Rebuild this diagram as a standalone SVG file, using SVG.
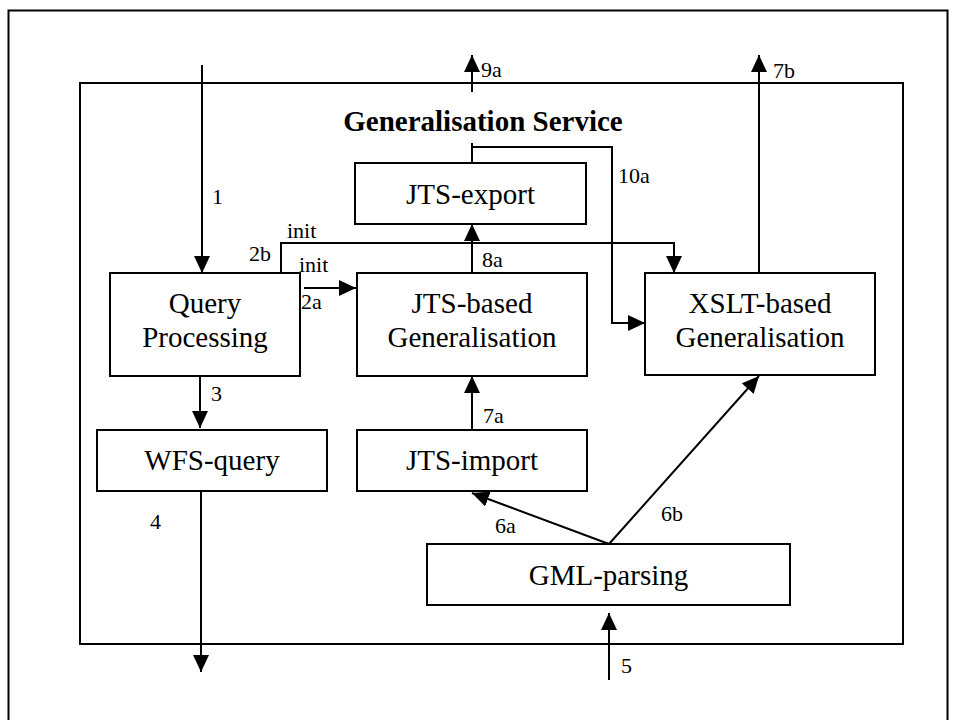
<svg xmlns="http://www.w3.org/2000/svg" width="955" height="720" viewBox="0 0 955 720">
<style>
.box{fill:#fff;stroke:#000;stroke-width:2}
.frame{fill:none;stroke:#000;stroke-width:2}
.lbl{font-family:"Liberation Serif","Times New Roman",serif;font-size:29px;fill:#000;text-anchor:middle}
.title{font-family:"Liberation Serif","Times New Roman",serif;font-size:29px;font-weight:bold;fill:#000;text-anchor:middle}
.num{font-family:"Liberation Serif","Times New Roman",serif;font-size:22px;fill:#000}
.con{fill:none;stroke:#000;stroke-width:2}
.arr{marker-end:url(#ah)}
</style>
<defs>
<marker id="ah" markerUnits="userSpaceOnUse" markerWidth="18" markerHeight="17" refX="17" refY="8" orient="auto">
<path d="M0,0 L17,8 L0,16 Z" fill="#000"/>
</marker>
</defs>
<rect x="8.5" y="10.5" width="939" height="730" class="frame"/>
<g id="service">
<rect x="80" y="83" width="823" height="561" class="frame"/>
<text x="483" y="131" class="title">Generalisation Service</text>
</g>
<g id="connectors">
<path class="con arr" d="M202,65 V273"/>
<path class="con arr" d="M281,273 V243 H674 V273"/>
<path class="con arr" d="M304,288 H356"/>
<path class="con arr" d="M472,273 V224"/>
<path class="con arr" d="M472,92 V55"/>
<path class="con arr" d="M759,273 V55"/>
<path class="con" d="M472,163 V143"/>
<path class="con arr" d="M472,147 H612 V323 H645"/>
<path class="con arr" d="M200,376 V428"/>
<path class="con arr" d="M201,491 V672"/>
<path class="con arr" d="M472,430 V376"/>
<path class="con arr" d="M609,544 L472,493"/>
<path class="con arr" d="M609,544 L759,376"/>
<path class="con arr" d="M609,680 V613"/>
<text x="212" y="204" class="num">1</text>
<text x="287" y="238" class="num">init</text>
<text x="249" y="261" class="num">2b</text>
<text x="299" y="272" class="num">init</text>
<text x="301" y="309" class="num">2a</text>
<text x="482" y="267" class="num">8a</text>
<text x="481" y="77" class="num">9a</text>
<text x="773" y="78" class="num">7b</text>
<text x="618" y="183" class="num">10a</text>
<text x="211" y="401" class="num">3</text>
<text x="150" y="529" class="num">4</text>
<text x="483" y="423" class="num">7a</text>
<text x="495" y="533" class="num">6a</text>
<text x="661" y="521" class="num">6b</text>
<text x="621" y="673" class="num">5</text>
</g>
<g id="query-processing">
<rect x="110" y="273" width="190" height="103" class="box"/>
<text x="205" y="313" class="lbl">Query</text>
<text x="205" y="347" class="lbl">Processing</text>
</g>
<g id="jts-based">
<rect x="357" y="273" width="230" height="103" class="box"/>
<text x="472" y="313" class="lbl">JTS-based</text>
<text x="472" y="347" class="lbl">Generalisation</text>
</g>
<g id="xslt-based">
<rect x="645" y="273" width="230" height="102" class="box"/>
<text x="760" y="313" class="lbl">XSLT-based</text>
<text x="760" y="347" class="lbl">Generalisation</text>
</g>
<g id="jts-export">
<rect x="355" y="163" width="231" height="61" class="box"/>
<text x="470.5" y="204" class="lbl">JTS-export</text>
</g>
<g id="wfs-query">
<rect x="97" y="430" width="230" height="61" class="box"/>
<text x="212" y="470" class="lbl">WFS-query</text>
</g>
<g id="jts-import">
<rect x="357" y="430" width="230" height="61" class="box"/>
<text x="472" y="470" class="lbl">JTS-import</text>
</g>
<g id="gml-parsing">
<rect x="427" y="544" width="363" height="61" class="box"/>
<text x="608.5" y="585" class="lbl">GML-parsing</text>
</g>
</svg>
